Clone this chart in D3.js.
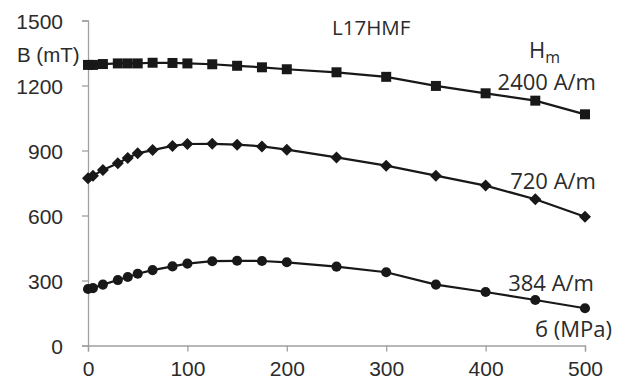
<!DOCTYPE html>
<html>
<head>
<meta charset="utf-8">
<script src="https://cdn.jsdelivr.net/npm/d3@7"></script>
<style>
  body { margin: 0; background: #fff; }
  svg { display: block; }
</style>
</head>
<body>
<div id="chart"></div>
<script>
// stress values (MPa), shared by all three curves
const stress = [0, 5, 15, 30, 40, 50, 65, 85, 100, 125, 150, 175, 200, 250, 300, 350, 400, 450, 500];
// B (mT) for each Hm
const b2400 = [1295, 1295, 1299, 1302, 1302, 1302, 1305, 1304, 1302, 1298, 1291, 1284, 1275, 1261, 1240, 1198, 1164, 1130, 1067];
const b720 = [772, 784, 810, 841, 865, 887, 902, 921, 930, 931, 927, 919, 904, 868, 830, 784, 738, 675, 594];
const b384 = [261, 265, 281, 302, 316, 331, 348, 365, 378, 389, 391, 390, 384, 364, 338, 281, 247, 210, 172];
const xTicks = [0, 100, 200, 300, 400, 500];
const yTicks = [0, 300, 600, 900, 1200, 1500];

const width = 625, height = 383;
const margin = { left: 88, right: 40, top: 20.5, bottom: 37.5 };

const svg = d3.select('#chart').append('svg')
  .attr('width', width)
  .attr('height', height);

const x = d3.scaleLinear().domain([0, 500]).range([margin.left, width - margin.right]);
const y = d3.scaleLinear().domain([0, 1500]).range([height - margin.bottom, margin.top]);

const axisColor = '#a0a0a0';
const textColor = '#2b2b2b';
const sans = 'Liberation Sans, Arial, sans-serif';
const open = 'Open Sans, sans-serif';

// axes
const xAxis = svg.append('g')
  .attr('transform', `translate(0,${y(0)})`)
  .call(d3.axisBottom(x).tickValues(xTicks).tickFormat(d3.format('d')).tickSize(6).tickPadding(10));
const yAxis = svg.append('g')
  .attr('transform', `translate(${x(0)},0)`)
  .call(d3.axisLeft(y).tickValues(yTicks).tickFormat(d3.format('d')).tickSize(6).tickPadding(19));

[xAxis, yAxis].forEach(a => {
  a.selectAll('path, line').attr('stroke', axisColor).attr('stroke-width', 1.3);
  a.selectAll('text')
    .attr('fill', textColor)
    .style('font-family', sans)
    .style('font-size', '21px');
});
yAxis.selectAll('text').attr('dy', '0.36em');

// series
const series = [
  { name: '2400', values: b2400, symbol: d3.symbolSquare, size: 100, rot: 0 },
  { name: '720', values: b720, symbol: d3.symbolSquare, size: 72, rot: 45 },
  { name: '384', values: b384, symbol: d3.symbolCircle, size: 80, rot: 0 }
];

const line = d3.line()
  .x(d => x(d[0]))
  .y(d => y(d[1]));

series.forEach(s => {
  const pts = stress.map((v, i) => [v, s.values[i]]);
  svg.append('path')
    .datum(pts)
    .attr('d', line)
    .attr('fill', 'none')
    .attr('stroke', '#181818')
    .attr('stroke-width', 2.2);
  svg.selectAll(null)
    .data(pts)
    .enter()
    .append('path')
    .attr('d', d3.symbol().type(s.symbol).size(s.size))
    .attr('transform', d => `translate(${x(d[0])},${y(d[1])}) rotate(${s.rot})`)
    .attr('fill', '#181818');
});

// labels
const lab = (txt, tx, ty, size, family, anchor) => svg.append('text')
  .attr('x', tx).attr('y', ty)
  .attr('text-anchor', anchor || 'start')
  .attr('fill', textColor)
  .style('font-family', family)
  .style('font-size', size + 'px')
  .text(txt);

lab('L17HMF', 332, 35, 20.5, open);
lab('B (mT)', 17, 62, 20.5, sans);

const hm = lab('H', 529, 58, 22, open);
hm.append('tspan').attr('dy', 5).style('font-size', '16px').text('m');

lab('2400 A/m', 596, 90, 22, open, 'end');
lab('720 A/m', 596, 189, 22, open, 'end');
lab('384 A/m', 594, 291, 22, open, 'end');
lab('б (MPa)', 612, 337, 22, open, 'end');
</script>
</body>
</html>
